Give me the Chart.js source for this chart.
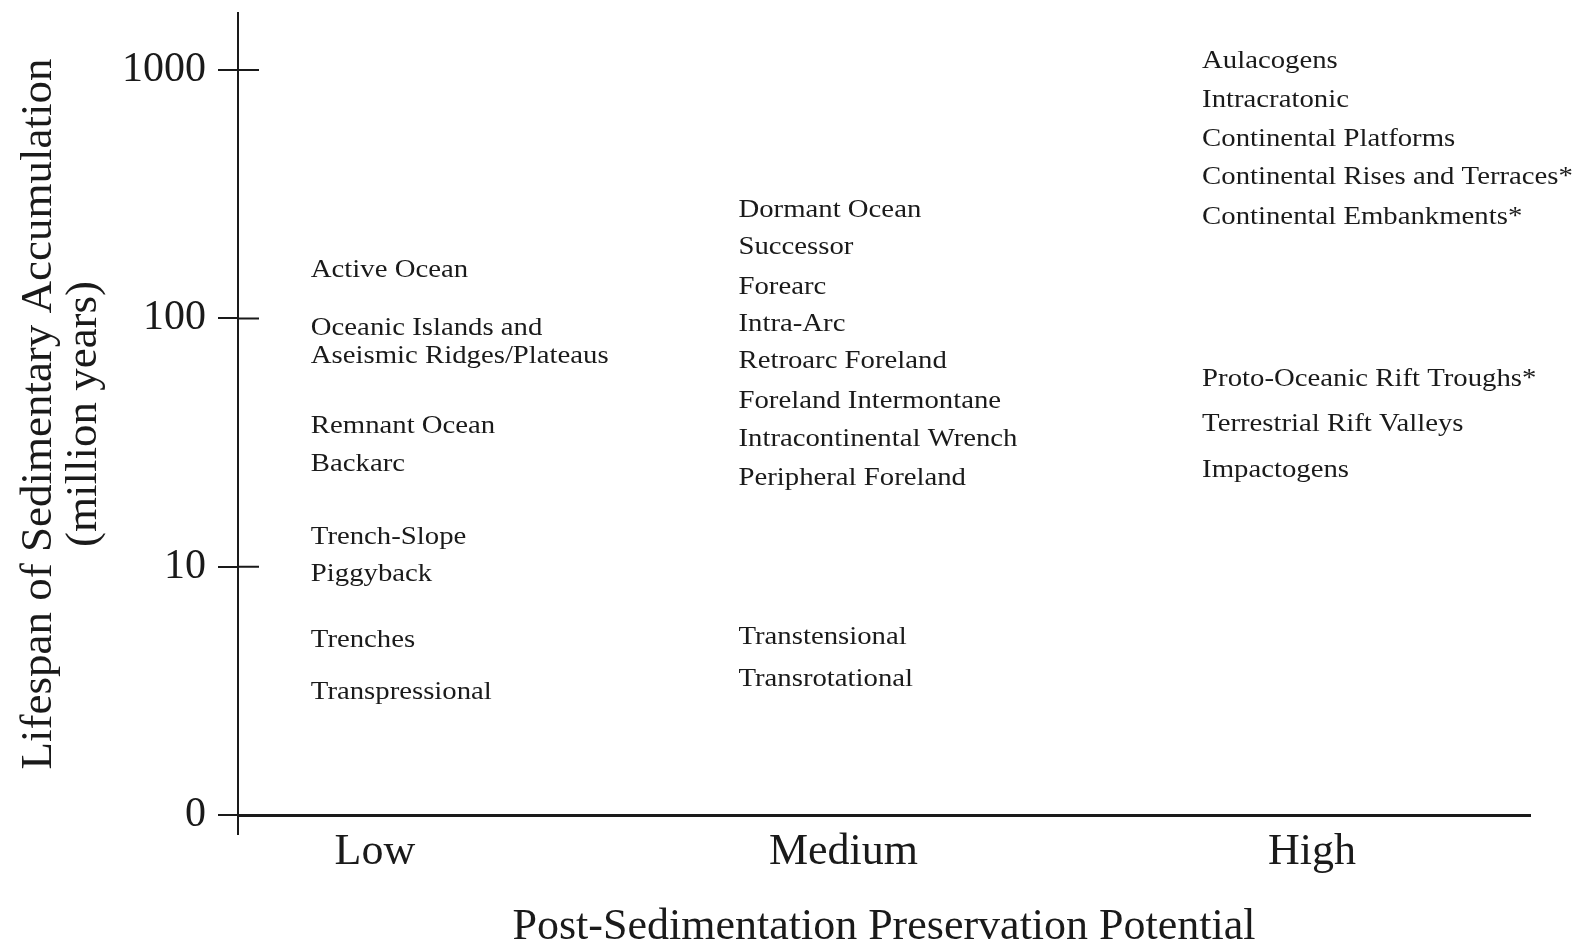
<!DOCTYPE html>
<html>
<head>
<meta charset="utf-8">
<title>Lifespan vs preservation potential of sedimentary basins</title>
<script src="https://cdn.jsdelivr.net/npm/chart.js@4.4.1/dist/chart.umd.min.js"></script>
<style>
  html, body { margin: 0; padding: 0; background: #fff; }
  canvas { display: block; }
</style>
</head>
<body>
<canvas id="myChart" width="1580" height="952"></canvas>
<script>
'use strict';

// categories on x, tick labels on y (y is counted in decades: 0, 10, 100, 1000)
let categories = ['Low', 'Medium', 'High'];
let yTickLabels = ['0', '10', '100', '1000'];

// basin types per preservation class, with their lifespan level (decades)
let lowBasins = ['Active Ocean', 'Oceanic Islands and\nAseismic Ridges/Plateaus', 'Remnant Ocean', 'Backarc',
  'Trench-Slope', 'Piggyback', 'Trenches', 'Transpressional'];
let lowLevels = [2.195, 1.903, 1.565, 1.412, 1.119, 0.969, 0.705, 0.494];

let mediumBasins = ['Dormant Ocean', 'Successor', 'Forearc', 'Intra-Arc', 'Retroarc Foreland',
  'Foreland Intermontane', 'Intracontinental Wrench', 'Peripheral Foreland', 'Transtensional', 'Transrotational'];
let mediumLevels = [2.434, 2.284, 2.126, 1.975, 1.825, 1.667, 1.513, 1.354, 0.717, 0.547];

let highBasins = ['Aulacogens', 'Intracratonic', 'Continental Platforms', 'Continental Rises and Terraces*',
  'Continental Embankments*', 'Proto-Oceanic Rift Troughs*', 'Terrestrial Rift Valleys', 'Impactogens'];
let highLevels = [3.035, 2.876, 2.722, 2.568, 2.406, 1.756, 1.574, 1.387];

let ink = '#1a1a1a';
let serif = '"Liberation Serif", "Times New Roman", serif';
let textOffsetPx = [-64, -105, -110]; // labels start left of the category tick

function makeDataset(col, names, levels) {
  return {
    data: levels.map((lv) => ({ x: col, y: lv })),
    names: names,
    pointRadius: 0,
    pointHoverRadius: 0
  };
}

let basinLabels = {
  id: 'basinLabels',
  afterDatasetsDraw(chart) {
    let ctx = chart.ctx;
    ctx.save();
    ctx.fillStyle = ink;
    ctx.font = '25px ' + serif;
    ctx.textBaseline = 'middle';
    ctx.textAlign = 'left';
    chart.data.datasets.forEach((ds, d) => {
      let meta = chart.getDatasetMeta(d);
      meta.data.forEach((pt, i) => {
        let lines = ds.names[i].split('\n');
        for (let k = 0; k < lines.length; k++) {
          ctx.save();
          ctx.translate(pt.x + textOffsetPx[d], pt.y + (k - (lines.length - 1) / 2) * 28);
          ctx.scale(1.15, 1);
          ctx.fillText(lines[k], 0, 0);
          ctx.restore();
        }
      });
    });
    ctx.restore();
  },
  afterDraw(chart) {
    // tick marks cross the y axis, and the y axis pokes below the x axis
    let ctx = chart.ctx;
    let y = chart.scales.y;
    let left = chart.chartArea.left;
    ctx.save();
    ctx.strokeStyle = ink;
    ctx.lineWidth = 2;
    ctx.beginPath();
    y.ticks.forEach((t) => {
      let py = y.getPixelForValue(t.value);
      ctx.moveTo(left, py);
      ctx.lineTo(left + 21, py);
    });
    ctx.moveTo(left, chart.chartArea.bottom);
    ctx.lineTo(left, chart.chartArea.bottom + 20);
    ctx.stroke();
    ctx.restore();
  }
};

let ctx = document.getElementById('myChart').getContext('2d');
let chartObject = {
  type: 'scatter',
  data: {
    datasets: [
      makeDataset(0, lowBasins, lowLevels),
      makeDataset(1, mediumBasins, mediumLevels),
      makeDataset(2, highBasins, highLevels)
    ]
  },
  options: {
    responsive: false,
    animation: false,
    layout: { padding: { left: 0, top: 13, right: 50, bottom: 0 } },
    plugins: {
      legend: { display: false },
      tooltip: { enabled: false }
    },
    scales: {
      x: {
        type: 'linear',
        min: -0.292,
        max: 2.465,
        afterBuildTicks: (s) => { s.ticks = categories.map((c, i) => ({ value: i })); },
        afterFit: (s) => { s.height = 952 - 815; },
        ticks: {
          callback: (v) => categories[v],
          font: { family: serif, size: 44, lineHeight: 1 },
          color: ink,
          padding: 15,
          autoSkip: false,
          maxRotation: 0
        },
        grid: { drawOnChartArea: false, drawTicks: false },
        border: { color: ink, width: 3 },
        title: {
          display: true,
          text: 'Post-Sedimentation Preservation Potential',
          font: { family: serif, size: 44, lineHeight: 1 },
          color: ink,
          padding: { top: 0, bottom: 3 }
        }
      },
      y: {
        type: 'linear',
        min: 0,
        max: 3.23,
        afterBuildTicks: (s) => { s.ticks = yTickLabels.map((t, i) => ({ value: i })); },
        afterFit: (s) => {
          s.width = 238;
          s.paddingTop = 0;
          s.paddingBottom = 0;
        },
        ticks: {
          callback: (v) => yTickLabels[v],
          font: { family: serif, size: 42, lineHeight: 1 },
          color: ink,
          padding: 12
        },
        grid: { drawOnChartArea: false, tickLength: 20, color: ink, lineWidth: 2 },
        border: { color: ink, width: 2 },
        title: {
          display: true,
          text: ['Lifespan of Sedimentary Accumulation', '(million years)'],
          font: { family: serif, size: 45, lineHeight: 1 },
          color: ink,
          padding: { top: 17, bottom: 0 }
        }
      }
    }
  },
  plugins: [basinLabels]
};
new Chart(ctx, chartObject); // eslint-disable-line
</script>
</body>
</html>
